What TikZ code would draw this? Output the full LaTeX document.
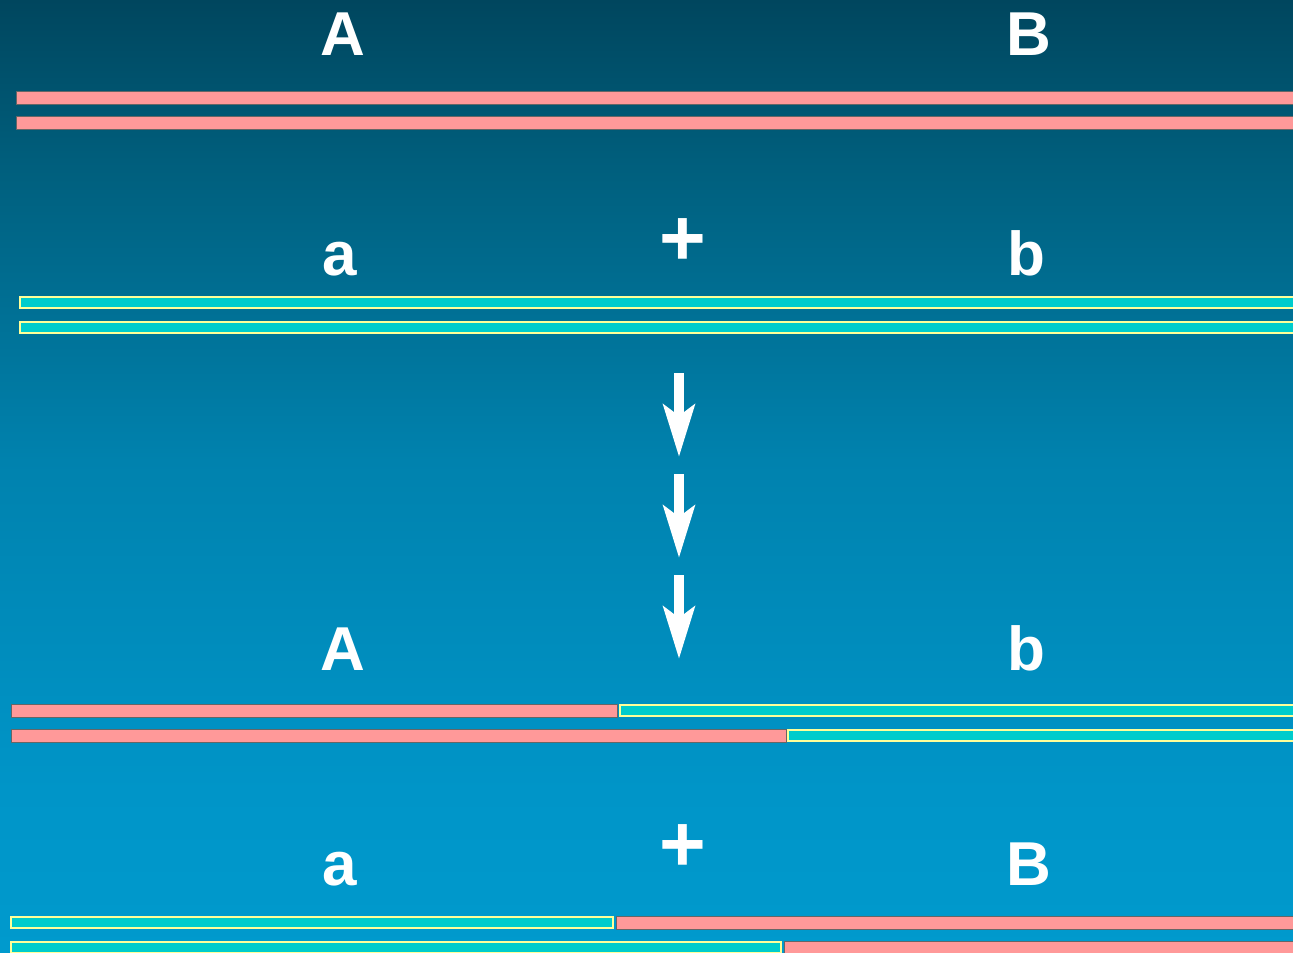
\documentclass[tikz,border=0pt]{standalone}
\usepackage{fontspec}
\setmainfont{Liberation Sans}
\usetikzlibrary{arrows.meta}
\definecolor{bgA}{HTML}{00465E}
\definecolor{bgB}{HTML}{005E7C}
\definecolor{bgC}{HTML}{0082AE}
\definecolor{bgD}{HTML}{0095C8}
\definecolor{bgE}{HTML}{009ACD}
\definecolor{dompink}{HTML}{FF9999}
\definecolor{recteal}{HTML}{00CCCC}
\definecolor{recedge}{HTML}{FFFF99}
\tikzset{
  pinkbar/.style={fill=dompink, draw=gray!80!black, line width=0.8pt},
  tealbar/.style={fill=recteal, draw=recedge, line width=2.2pt},
  allele/.style={text=white, font=\fontsize{62}{62}\selectfont\bfseries, inner sep=0pt, anchor=base},
  plus/.style={text=white, font=\fontsize{80}{80}\selectfont\bfseries, inner sep=0pt},
  crossarrow/.style={white, line width=10pt, -{Stealth[length=52pt, width=31pt, inset=11pt]}},
}
\begin{document}
\begin{tikzpicture}[x=1pt, y=-1pt]
  \useasboundingbox (0,0) rectangle (1293,953);
  \clip (0,0) rectangle (1293,953);
  % background gradient, brightening faster near the top
  \shade[top color=bgA, bottom color=bgB] (0,0) rectangle (1293,161);
  \shade[top color=bgB, bottom color=bgC] (0,160) rectangle (1293,461);
  \shade[top color=bgC, bottom color=bgD] (0,460) rectangle (1293,791);
  \shade[top color=bgD, bottom color=bgE] (0,790) rectangle (1293,953);

  % parent chromosome pair A/B
  \node[allele] (A1) at (343,55) {A};
  \node[allele] (B1) at (1029,55) {B};
  \path[pinkbar] (16,91) rectangle (1310,104);
  \path[pinkbar] (16,116) rectangle (1310,129);

  % parent chromosome pair a/b
  \node[plus] (plus1) at (683,242) {+};
  \node[allele] (a1) at (340,275) {a};
  \node[allele] (b1) at (1026,275) {b};
  \path[tealbar] (20,297) rectangle (1310,308);
  \path[tealbar] (20,322) rectangle (1310,333);

  % generations
  \coordinate (s1) at (679,373); \coordinate (e1) at (679,457);
  \coordinate (s2) at (679,474); \coordinate (e2) at (679,558);
  \coordinate (s3) at (679,575); \coordinate (e3) at (679,659);
  \draw[crossarrow] (s1) -- (e1);
  \draw[crossarrow] (s2) -- (e2);
  \draw[crossarrow] (s3) -- (e3);

  % recombinant A/b
  \node[allele] (A2) at (343,670) {A};
  \node[allele] (b2) at (1026,670) {b};
  \path[pinkbar] (11,704) rectangle (617,717);
  \path[tealbar] (620,705) rectangle (1310,716);
  \path[pinkbar] (11,729) rectangle (786,742);
  \path[tealbar] (788,730) rectangle (1310,741);

  % recombinant a/B
  \node[plus] (plus2) at (683,848) {+};
  \node[allele] (a2) at (340,885) {a};
  \node[allele] (B2) at (1029,885) {B};
  \path[tealbar] (11,917) rectangle (613,928);
  \path[pinkbar] (616,916) rectangle (1310,929);
  \path[tealbar] (11,942) rectangle (781,953);
  \path[pinkbar] (784,941) rectangle (1310,954);
\end{tikzpicture}
\end{document}
